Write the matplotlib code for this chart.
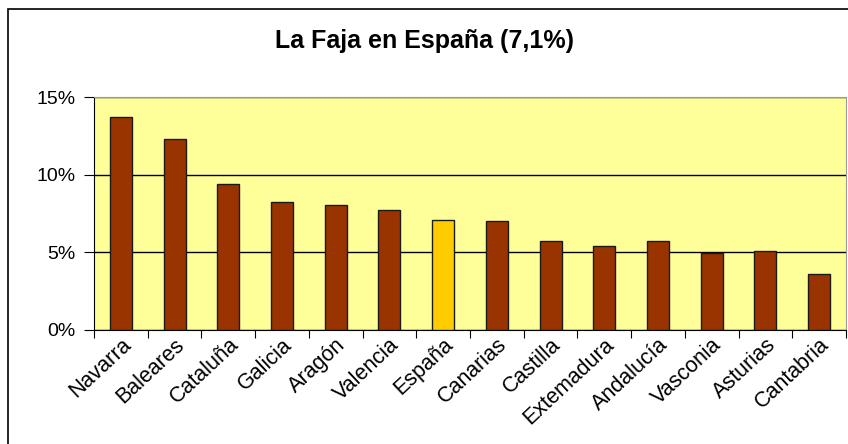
import matplotlib.pyplot as plt
from matplotlib.ticker import FuncFormatter
from matplotlib.patches import Rectangle
from matplotlib.transforms import ScaledTranslation

# regiones y porcentaje de la faja
regiones = ['Navarra', 'Baleares', 'Cataluña', 'Galicia', 'Aragón', 'Valencia',
            'España', 'Canarias', 'Castilla', 'Extemadura', 'Andalucía',
            'Vasconia', 'Asturias', 'Cantabria']
faja = [13.7, 12.3, 9.4, 8.25, 8.05, 7.7, 7.1, 7.0, 5.75, 5.4, 5.75, 4.95, 5.1, 3.6]
colores = ['#FFCC00' if r == 'España' else '#993300' for r in regiones]

plt.rcParams['font.family'] = ['Liberation Sans', 'DejaVu Sans']

fig = plt.figure(figsize=(8.48, 4.44), dpi=100)
ax = fig.add_axes([94 / 848, 1 - 330 / 444, 752 / 848, 233 / 444])

# marco exterior del grafico
fig.patches.append(Rectangle((8 / 848, -0.1), 1.0, 1 - 9 / 444 + 0.1,
                             transform=fig.transFigure, fill=False,
                             edgecolor='black', linewidth=1.2))

x = range(len(regiones))
ax.bar(x, faja, width=0.41, color=colores, edgecolor='#1a1a1a', linewidth=1.0, zorder=3)

ax.set_facecolor('#FFFF99')
ax.set_xlim(-0.5, len(regiones) - 0.5)
ax.set_ylim(0, 15)
ax.set_yticks([0, 5, 10, 15])
ax.yaxis.set_major_formatter(FuncFormatter(lambda v, p: f'{v:.0f}%'))
ax.yaxis.grid(True, color='black', linewidth=1.0, zorder=1)

ax.set_xticks([i - 0.5 for i in range(len(regiones) + 1)], minor=False)
ax.set_xticklabels([])
ax.set_xticks(list(x), minor=True)
ax.set_xticklabels(regiones, minor=True, rotation=43, ha='right', va='top',
                   rotation_mode='anchor', fontsize=15.5)
# desplazar un poco las etiquetas a la izquierda
shift = ScaledTranslation(-7 / 100, 0, fig.dpi_scale_trans)
for lbl in ax.get_xticklabels(minor=True):
    lbl.set_transform(lbl.get_transform() + shift)
ax.tick_params(axis='x', which='minor', length=0, pad=3)
ax.tick_params(axis='x', which='major', length=6, direction='out', color='black')
ax.tick_params(axis='y', length=7, labelsize=14, pad=6, color='black')

ax.spines['left'].set_color('black')
ax.spines['bottom'].set_color('black')
ax.spines['top'].set_color('#999999')
ax.spines['right'].set_color('#999999')

fig.text(425 / 848, 1 - 41 / 444, 'La Faja en España (7,1%)', ha='center', va='center',
         fontsize=18, fontweight='bold')

plt.savefig('out.png', dpi=100)
